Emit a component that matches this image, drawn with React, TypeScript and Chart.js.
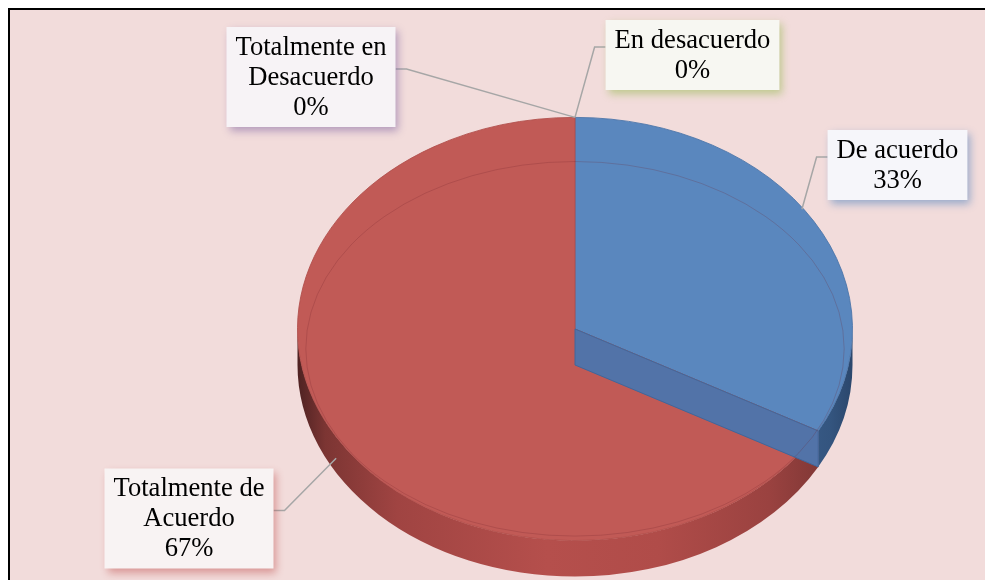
import React, { useEffect, useRef } from 'react';
import { Chart, registerables } from 'chart.js';

Chart.register(...registerables);

// ---- data ----
const categories = ['De acuerdo', 'Totalmente de Acuerdo', 'En desacuerdo', 'Totalmente en Desacuerdo'];
const values = [33, 67, 0, 0];
const labelLines = [['De acuerdo'], ['Totalmente de', 'Acuerdo'], ['En desacuerdo'], ['Totalmente en', 'Desacuerdo']];

// ---- style ----
const topColors = ['#5A87BE', '#C15A56', '#9BBB59', '#8064A2'];
const borderColors = ['#4A74A8', '#B04E4B', '#7F9A48', '#6A5287'];
const borderWidths = [1, 1, 0, 0];
const sideStops: Array<Array<[number, string]>> = [
  [[0, '#2a4569'], [0.5, '#3b5f8e'], [0.85, '#3d6291'], [0.96, '#34557f'], [1, '#2b476c']],
  [[0, '#4e2222'], [0.05, '#7c3533'], [0.18, '#a04442'], [0.45, '#b54f4c'], [0.65, '#b04c49'], [0.85, '#9a4240'], [0.95, '#7f3735'], [1, '#5e2a29']],
  [[0, '#6f863f'], [1, '#6f863f']],
  [[0, '#5c4775'], [1, '#5c4775']],
];
const boxFills = ['#F6F6FA', '#F8F3F3', '#F7F7F2', '#F7F3F6'];
const boxShadows = ['rgba(79,129,189,0.55)', 'rgba(192,80,77,0.5)', 'rgba(155,187,89,0.6)', 'rgba(128,100,162,0.55)'];
// label box centres (canvas px) - layout only
const boxCenters: Array<[number, number]> = [[887.5, 155], [179, 508.5], [682.5, 45], [301, 67]];

const TILT = 0.7626;
const DEPTH = 36;
const LINE_H = 30;
const FONT = '26.6px "Liberation Serif", "Times New Roman", serif';

const pie3d = {
  id: 'pie3d',
  beforeDatasetsDraw(chart: any) {
    const ctx = chart.ctx as CanvasRenderingContext2D;
    const arcs = chart.getDatasetMeta(0).data;
    if (!arcs.length) return;
    const { x: cx, y: cy, outerRadius: R } = arcs[0];
    const ry = R * TILT;
    arcs.forEach((arc: any, i: number) => {
      const a1 = Math.max(arc.startAngle, 0);
      const a2 = Math.min(arc.endAngle, Math.PI);
      if (a2 <= a1) return;
      const g = ctx.createLinearGradient(cx - R, 0, cx + R, 0);
      sideStops[i].forEach(([o, c]) => g.addColorStop(o, c));
      ctx.beginPath();
      ctx.ellipse(cx, cy, R, ry, 0, a1, a2, false);
      ctx.ellipse(cx, cy + DEPTH, R, ry, 0, a2, a1, true);
      ctx.closePath();
      ctx.fillStyle = g;
      ctx.fill();
    });
    ctx.save();
    ctx.translate(cx, cy);
    ctx.scale(1, TILT);
    ctx.translate(-cx, -cy);
  },
  afterDatasetsDraw(chart: any) {
    const ctx = chart.ctx as CanvasRenderingContext2D;
    ctx.restore();
    const arcs = chart.getDatasetMeta(0).data;
    if (!arcs.length) return;
    const { x: cx, y: cy, outerRadius: R } = arcs[0];
    const ry = R * TILT;

    // inner wall of the first slice at its end edge
    const e = arcs[0].endAngle;
    const px = cx + R * Math.cos(e);
    const py = cy + ry * Math.sin(e);
    ctx.beginPath();
    ctx.moveTo(cx, cy);
    ctx.lineTo(px, py);
    ctx.lineTo(px, py + DEPTH);
    ctx.lineTo(cx, cy + DEPTH);
    ctx.closePath();
    ctx.fillStyle = '#5273A8';
    ctx.fill();
    ctx.strokeStyle = '#41669A';
    ctx.lineWidth = 1;
    ctx.stroke();

    // bevel line
    ctx.beginPath();
    ctx.ellipse(cx, cy + DEPTH * 0.55, R * 0.97, ry * 0.885, 0, 0, Math.PI * 2);
    ctx.strokeStyle = 'rgba(110,30,40,0.22)';
    ctx.lineWidth = 1;
    ctx.stroke();

    // labels
    const total = values.reduce((a, b) => a + b, 0);
    ctx.font = FONT;
    arcs.forEach((arc: any, i: number) => {
      const lines = [...labelLines[i], Math.round((values[i] / total) * 100) + '%'];
      const w = Math.max(...lines.map((l) => ctx.measureText(l).width)) + 18;
      const h = lines.length * LINE_H + 10;
      const [bx, by] = boxCenters[i];
      const left = bx - w / 2;
      const top = by - h / 2;
      const m = (arc.startAngle + arc.endAngle) / 2;
      const s = Math.sin(m);
      const ax = cx + R * Math.cos(m) * (s < -0.05 && s > -0.99 ? 0.95 : 1);
      const ay = cy + ry * s + (s > 0.05 ? DEPTH * 0.6 : s < -0.05 && s > -0.99 ? -12 : 0);
      const onRight = bx < ax;
      const edge = onRight ? left + w : left;
      const ex = onRight ? edge + 11 : edge - 11;
      const ey = by - 8;
      ctx.beginPath();
      ctx.moveTo(edge, ey);
      ctx.lineTo(ex, ey);
      ctx.lineTo(ax, ay);
      ctx.strokeStyle = '#A6A6A6';
      ctx.lineWidth = 1.5;
      ctx.stroke();

      ctx.save();
      ctx.shadowColor = boxShadows[i];
      ctx.shadowBlur = 8;
      ctx.shadowOffsetX = 3;
      ctx.shadowOffsetY = 4;
      ctx.fillStyle = boxFills[i];
      ctx.fillRect(left, top, w, h);
      ctx.restore();

      ctx.fillStyle = '#000';
      ctx.textAlign = 'center';
      ctx.textBaseline = 'middle';
      lines.forEach((l, k) => {
        ctx.fillText(l, bx, top + 5 + LINE_H / 2 + k * LINE_H + 1);
      });
    });
  },
};

export default function App() {
  const ref = useRef<HTMLCanvasElement | null>(null);
  useEffect(() => {
    if (!ref.current) return;
    const chart = new Chart(ref.current, {
      type: 'pie',
      data: {
        labels: categories,
        datasets: [
          {
            data: values,
            backgroundColor: topColors,
            borderColor: borderColors,
            borderWidth: borderWidths,
          },
        ],
      },
      options: {
        responsive: false,
        animation: false,
        events: [],
        layout: { padding: { left: 287, right: 132, top: 41, bottom: 43 } },
        plugins: { legend: { display: false }, tooltip: { enabled: false } },
      },
      plugins: [pie3d],
    });
    return () => chart.destroy();
  }, []);
  return (
    <div
      style={{
        position: 'fixed',
        left: 8,
        top: 8,
        width: 977,
        height: 572,
        boxSizing: 'border-box',
        borderLeft: '2px solid #000',
        borderTop: '2px solid #000',
        background: '#F2DCDB',
        overflow: 'hidden',
      }}
    >
      <canvas ref={ref} width={975} height={640} style={{ display: 'block' }} />
    </div>
  );
}
